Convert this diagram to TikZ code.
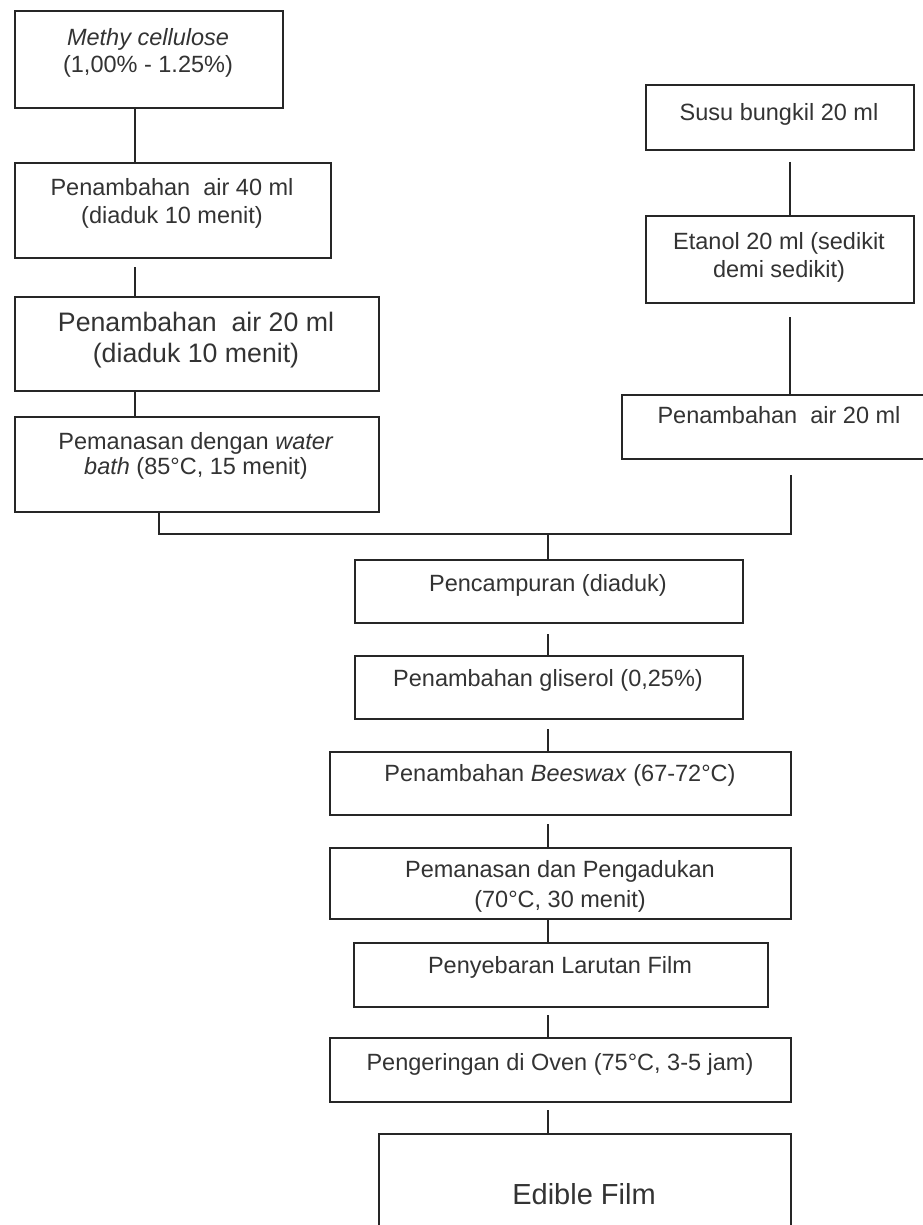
\documentclass[tikz,border=0pt]{standalone}
\usepackage{fontspec}
\setmainfont{Liberation Sans}
\begin{document}
\begin{tikzpicture}[x=1pt,y=-1pt,
  box/.style={draw=black!85, line width=2pt, rectangle, inner sep=0pt, anchor=north west},
  conn/.style={draw=black!85, line width=2pt},
  txt/.style={inner sep=0pt, anchor=north, align=center, text=black!80, font=\fontsize{23.5}{28}\selectfont},
  big/.style={font=\fontsize{26.7}{31}\selectfont},
]
\useasboundingbox[fill=white] (0,0) rectangle (922,1225);

% left column
\node[box, minimum width=268pt, minimum height=97pt] (b1) at (14,10) {};
\node[box, minimum width=316pt, minimum height=95pt] (b2) at (14,162) {};
\node[box, minimum width=364pt, minimum height=94pt] (b3) at (14,296) {};
\node[box, minimum width=364pt, minimum height=95pt] (b4) at (14,416) {};
% right column
\node[box, minimum width=268pt, minimum height=65pt] (r1) at (645,84) {};
\node[box, minimum width=268pt, minimum height=87pt] (r2) at (645,215) {};
\node[box, minimum width=316pt, minimum height=64pt] (r3) at (621,394) {};
% centre column
\node[box, minimum width=388pt, minimum height=63pt] (c1) at (354,559) {};
\node[box, minimum width=388pt, minimum height=63pt] (c2) at (354,655) {};
\node[box, minimum width=461pt, minimum height=63pt] (c3) at (329,751) {};
\node[box, minimum width=461pt, minimum height=71pt] (c4) at (329,847) {};
\node[box, minimum width=414pt, minimum height=64pt] (c5) at (353,942) {};
\node[box, minimum width=461pt, minimum height=64pt] (c6) at (329,1037) {};
\node[box, minimum width=412pt, minimum height=120pt] (c7) at (378,1133) {};

% texts
\node[txt, font=\fontsize{23.5}{27}\selectfont] (t1) at (148,26.5) {\strut\textit{Methy cellulose}\\(1,00\% - 1.25\%)};
\node[txt] (t2) at (172,176) {\strut Penambahan\ \ air 40 ml\\(diaduk 10 menit)};
\node[txt, big] (t3) at (196,310) {\strut Penambahan\ \ air 20 ml\\(diaduk 10 menit)};
\node[txt, font=\fontsize{23.5}{25}\selectfont] (t4) at (196,432) {\strut Pemanasan dengan \textit{water}\\\textit{bath} (85°C, 15 menit)};
\node[txt] (s1) at (779,101) {\strut Susu bungkil 20 ml};
\node[txt] (s2) at (779,230) {\strut Etanol 20 ml (sedikit\\demi sedikit)};
\node[txt] (s3) at (779,404) {\strut Penambahan\ \ air 20 ml};
\node[txt] (m1) at (548,572) {\strut Pencampuran (diaduk)};
\node[txt] (m2) at (548,667) {\strut Penambahan gliserol (0,25\%)};
\node[txt] (m3) at (560,762) {\strut Penambahan \textit{Beeswax} (67-72°C)};
\node[txt, font=\fontsize{23.5}{30}\selectfont] (m4) at (560,856) {\strut Pemanasan dan Pengadukan\\(70°C, 30 menit)};
\node[txt] (m5) at (560,954) {\strut Penyebaran Larutan Film};
\node[txt] (m6) at (560,1051) {\strut Pengeringan di Oven (75°C, 3-5 jam)};
\node[txt, font=\fontsize{29}{34}\selectfont] (m7) at (584,1180) {\strut Edible Film};

% column x positions and junctions
\coordinate (xl) at (135,0);
\coordinate (xr) at (790,0);
\coordinate (jl) at (159,534);
\coordinate (jr) at (791,534);
\coordinate (jc) at (548,534);

% connectors
\draw[conn] (b1.south -| xl) -- (b2.north -| xl);
\draw[conn, shorten <=8pt] (b2.south -| xl) -- (b3.north -| xl);
\draw[conn] (b3.south -| xl) -- (b4.north -| xl);
\draw[conn, shorten <=11pt] (r1.south -| xr) -- (r2.north -| xr);
\draw[conn, shorten <=13pt] (r2.south -| xr) -- (r3.north -| xr);
\draw[conn, shorten >=15pt] (b4.south -| jl) -- (jl) -- (jr) -- (r3.south -| jr);
\draw[conn] (jc) -- (c1.north -| jc);
\draw[conn, shorten <=10pt] (c1.south -| jc) -- (c2.north -| jc);
\draw[conn, shorten <=9pt] (c2.south -| jc) -- (c3.north -| jc);
\draw[conn, shorten <=8pt] (c3.south -| jc) -- (c4.north -| jc);
\draw[conn] (c4.south -| jc) -- (c5.north -| jc);
\draw[conn, shorten <=7pt] (c5.south -| jc) -- (c6.north -| jc);
\draw[conn, shorten <=7pt] (c6.south -| jc) -- (c7.north -| jc);
\end{tikzpicture}
\end{document}
